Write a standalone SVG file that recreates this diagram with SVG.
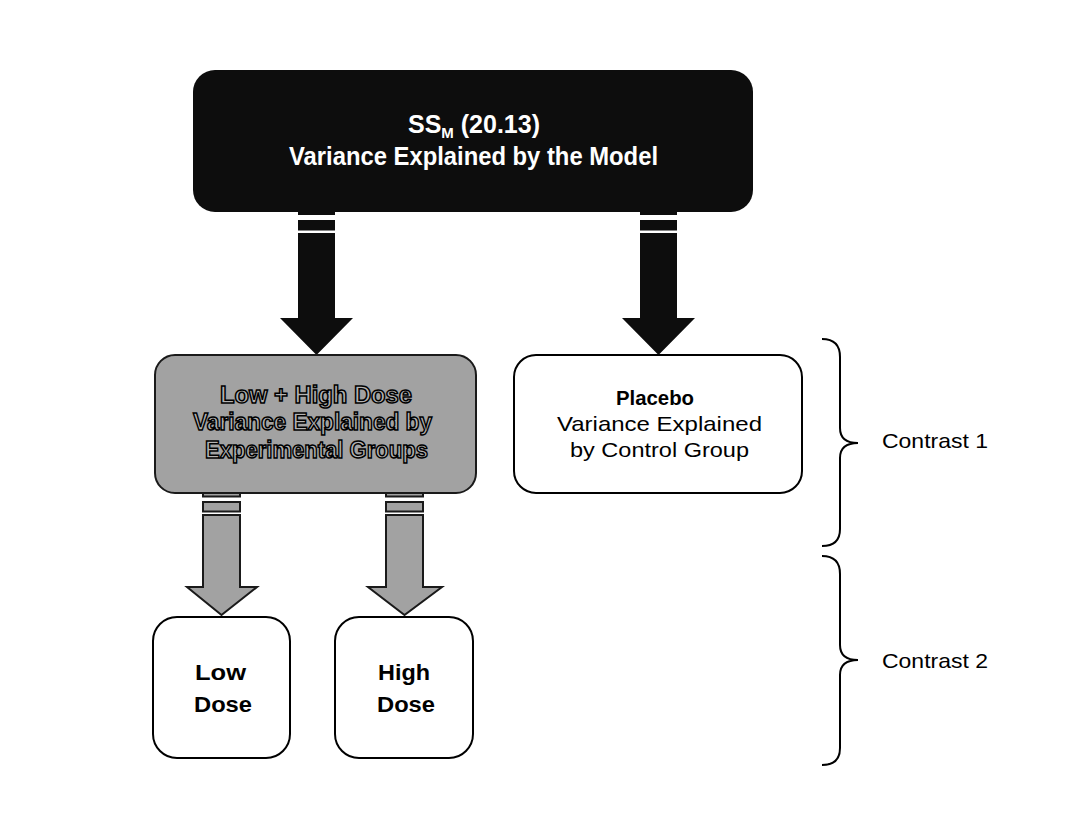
<svg xmlns="http://www.w3.org/2000/svg" width="1078" height="814" viewBox="0 0 1078 814">
  <style>
    .bold { font-family: "Liberation Sans", Arial, sans-serif; font-weight: bold; }
    .reg { font-family: "Liberation Sans", Arial, sans-serif; }
    .white-box { fill: #ffffff; stroke: #000000; stroke-width: 2; }
    .gray { fill: #a2a2a2; stroke: #1a1a1a; stroke-width: 2; }
    .blk { fill: #0d0d0d; }
    .gap { fill: #ffffff; }
    .brace { fill: none; stroke: #000000; stroke-width: 2; }
    .outl { fill: #b4b4b4; stroke: #000000; stroke-width: 1.5; }
  </style>
  <rect x="0" y="0" width="1078" height="814" fill="#ffffff"/>

  <g id="connectors">
    <g id="arrow-model-to-exp">
      <polygon class="blk" points="298,211 335,211 335,318 353,318 316.5,355 280,318 298,318"/>
      <rect class="gap" x="297" y="215" width="39" height="5"/>
      <rect class="gap" x="297" y="230.5" width="39" height="2.5"/>
    </g>
    <g id="arrow-model-to-placebo">
      <polygon class="blk" points="640,211 677,211 677,318 695,318 658.5,355 622,318 640,318"/>
      <rect class="gap" x="639" y="215" width="39" height="5"/>
      <rect class="gap" x="639" y="230.5" width="39" height="2.5"/>
    </g>
    <g id="arrow-exp-to-low">
      <rect class="gray" x="203" y="493" width="37" height="3.5" stroke-width="1.5"/>
      <rect class="gray" x="203" y="502" width="37" height="9.5" stroke-width="1.5"/>
      <polygon class="gray" stroke-width="1.5" points="203,515 240,515 240,587 257,587 221.5,615 187,587 203,587"/>
    </g>
    <g id="arrow-exp-to-high">
      <rect class="gray" x="386" y="493" width="37" height="3.5" stroke-width="1.5"/>
      <rect class="gray" x="386" y="502" width="37" height="9.5" stroke-width="1.5"/>
      <polygon class="gray" stroke-width="1.5" points="386,515 423,515 423,587 442,587 404.5,615 368,587 386,587"/>
    </g>
  </g>

  <g id="node-model">
    <rect x="193" y="70" width="560" height="142" rx="22" ry="22" fill="#0d0d0d"/>
    <text class="bold" x="474" y="133" font-size="25" fill="#ffffff" text-anchor="middle">SS<tspan font-size="15" dy="5">M</tspan><tspan dy="-5"> (20.13)</tspan></text>
    <text class="bold" x="473.5" y="165" font-size="25" fill="#ffffff" text-anchor="middle" textLength="369" lengthAdjust="spacingAndGlyphs">Variance Explained by the Model</text>
  </g>

  <g id="node-experimental">
    <rect class="gray" x="155" y="355" width="321" height="138" rx="20" ry="20"/>
    <text class="bold outl" x="316" y="403" font-size="24" text-anchor="middle" textLength="192" lengthAdjust="spacingAndGlyphs">Low + High Dose</text>
    <text class="bold outl" x="312.5" y="430" font-size="24" text-anchor="middle" textLength="239" lengthAdjust="spacingAndGlyphs">Variance Explained by</text>
    <text class="bold outl" x="316.5" y="458" font-size="24" text-anchor="middle" textLength="223" lengthAdjust="spacingAndGlyphs">Experimental Groups</text>
  </g>

  <g id="node-placebo">
    <rect class="white-box" x="514" y="355" width="288" height="138" rx="22" ry="22"/>
    <text class="bold" x="655" y="405" font-size="21" text-anchor="middle" textLength="78" lengthAdjust="spacingAndGlyphs">Placebo</text>
    <text class="reg" x="659.5" y="431" font-size="21" text-anchor="middle" textLength="205" lengthAdjust="spacingAndGlyphs">Variance Explained</text>
    <text class="reg" x="659.5" y="457" font-size="21" text-anchor="middle" textLength="179" lengthAdjust="spacingAndGlyphs">by Control Group</text>
  </g>

  <g id="node-low">
    <rect class="white-box" x="153" y="617" width="137" height="141" rx="24" ry="24"/>
    <text class="bold" x="220.5" y="680" font-size="22" text-anchor="middle" textLength="51" lengthAdjust="spacingAndGlyphs">Low</text>
    <text class="bold" x="223" y="712" font-size="22" text-anchor="middle" textLength="58" lengthAdjust="spacingAndGlyphs">Dose</text>
  </g>

  <g id="node-high">
    <rect class="white-box" x="335" y="617" width="138" height="141" rx="24" ry="24"/>
    <text class="bold" x="404" y="680" font-size="22" text-anchor="middle" textLength="52" lengthAdjust="spacingAndGlyphs">High</text>
    <text class="bold" x="406" y="712" font-size="22" text-anchor="middle" textLength="58" lengthAdjust="spacingAndGlyphs">Dose</text>
  </g>

  <g id="contrast1">
    <path class="brace" d="M822,339 Q840,339 840,357 L840,428 Q840,443 858,443 Q840,443 840,458 L840,529 Q840,546 822,546"/>
    <text class="reg" x="882" y="448" font-size="21" textLength="106" lengthAdjust="spacingAndGlyphs">Contrast 1</text>
  </g>

  <g id="contrast2">
    <path class="brace" d="M822,556 Q840,556 840,574 L840,645 Q840,660 858,660 Q840,660 840,675 L840,748 Q840,765 822,765"/>
    <text class="reg" x="882" y="668" font-size="21" textLength="106" lengthAdjust="spacingAndGlyphs">Contrast 2</text>
  </g>
</svg>
